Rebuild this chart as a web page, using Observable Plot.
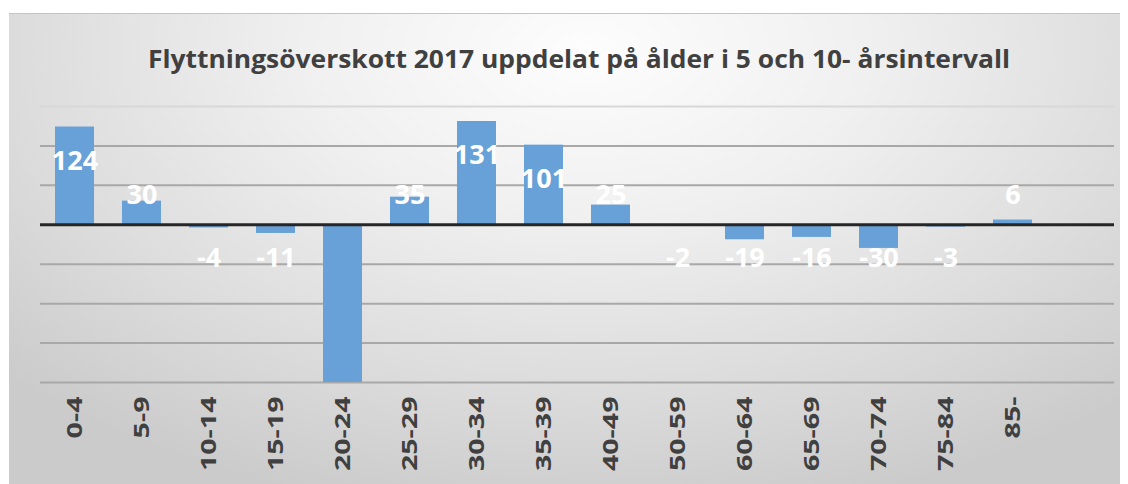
<!DOCTYPE html>
<html>
<head>
<meta charset="utf-8">
<script src="https://cdn.jsdelivr.net/npm/d3@7"></script>
<script src="https://cdn.jsdelivr.net/npm/@observablehq/plot@0.6"></script>
<style>
  html, body { margin: 0; padding: 0; background: #ffffff; }
  #wrap { position: relative; width: 1128px; height: 484px; overflow: hidden; }
  #panel {
    position: absolute; left: 9px; top: 13px; width: 1111px; height: 471px;
    border-top: 1px solid #c4c4c4;
    background: radial-gradient(ellipse 72% 100% at 52% 8%, #fdfdfd 0%, #f0f0f0 35%, #dddddd 70%, #cbcbcb 100%);
  }
  #chart { position: absolute; left: 0; top: 0; }
</style>
</head>
<body>
<div id="wrap"><div id="panel"></div><div id="chart"></div></div>
<script>
const title = "Flyttningsöverskott 2017 uppdelat på ålder i 5 och 10- årsintervall";
const categories = ["0-4","5-9","10-14","15-19","20-24","25-29","30-34","35-39","40-49","50-59","60-64","65-69","70-74","75-84","85-"];
const values = [124, 30, -4, -11, -200, 35, 131, 101, 25, -2, -19, -16, -30, -3, 6];
const gridValues = [150, 100, 50, -50, -100, -150, -200];
const yDomain = [-200, 150];

const data = categories.map((c, i) => ({cat: c, v: values[i]}));
const xDomain = [...categories, ""];
const labelData = data.filter(d => d.v > yDomain[0]);

const plot = Plot.plot({
  width: 1128,
  height: 484,
  marginLeft: 40,
  marginRight: 14,
  marginTop: 106,
  marginBottom: 102,
  style: {background: "transparent", overflow: "visible"},
  x: {domain: xDomain, paddingInner: 0.42, paddingOuter: 0.21, label: null},
  y: {domain: yDomain, clamp: true, label: null, axis: null},
  marks: [
    Plot.ruleY(gridValues, {y: d => d, stroke: d => d === 150 ? "#d8d8d8" : "#a8a8a8", strokeWidth: 2}),
    Plot.barY(data, {x: "cat", y: "v", fill: "#68a1d8"}),
    Plot.ruleY([0], {stroke: "#262626", strokeWidth: 3}),
    Plot.text(labelData, {
      x: "cat",
      y: d => d.v > 0 ? Math.max(37, d.v - 43) : -43,
      text: d => String(d.v),
      fill: "white",
      fontSize: 27,
      fontWeight: "bold",
      fontFamily: "Open Sans, sans-serif"
    }),
    Plot.axisX({
      tickSize: 0,
      tickPadding: 14,
      tickRotate: -90,
      fontSize: 22,
      fontWeight: "bold",
      fontFamily: "Open Sans, sans-serif",
      fill: "#404040",
      label: null
    })
  ]
});

document.getElementById("chart").appendChild(plot);

const svg = d3.select(plot);
// stretch the rotated tick labels along their length, like the reference
svg.selectAll('g[aria-label="x-axis tick label"] text').each(function() {
  const t = this.getAttribute("transform") || "";
  this.setAttribute("transform", t + " scale(1.3,1)");
});
svg.append("text")
  .attr("x", 579)
  .attr("y", 68)
  .attr("text-anchor", "middle")
  .attr("font-family", "Open Sans, sans-serif")
  .attr("font-weight", "bold")
  .attr("font-size", 25)
  .attr("fill", "#404040")
  .attr("textLength", 862)
  .attr("lengthAdjust", "spacingAndGlyphs")
  .text(title);
</script>
</body>
</html>
